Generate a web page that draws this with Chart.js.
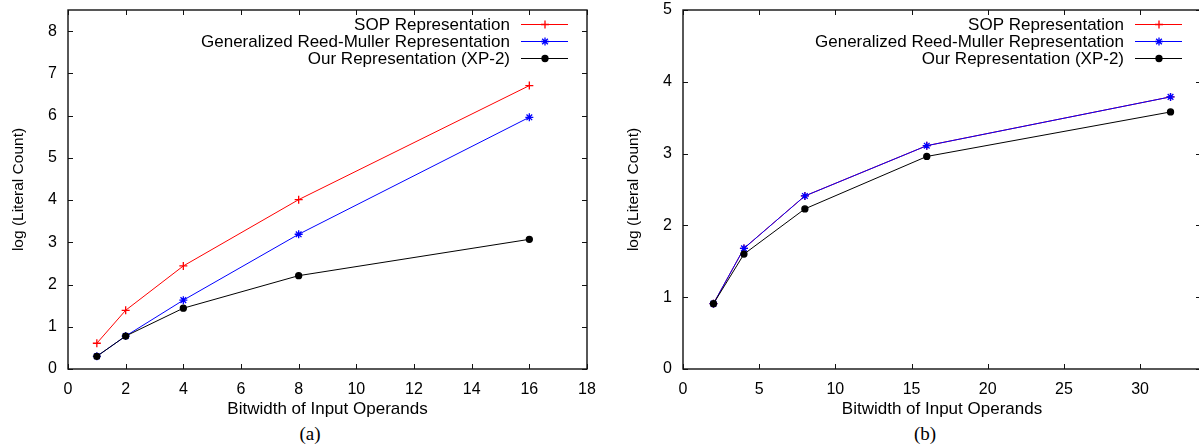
<!DOCTYPE html>
<html>
<head>
<meta charset="utf-8">
<script src="https://cdn.jsdelivr.net/npm/chart.js@4.4.1/dist/chart.umd.min.js"></script>
<style>
    html, body { margin: 0; padding: 0; background: #fff; overflow: hidden; width: 1199px; height: 447px; }
    canvas { position: absolute; top: 0; }
    #chartA { left: 0; }
    #chartB { left: 600px; }
    .caption { position: absolute; top: 423px; width: 60px; margin-left: -30px; text-align: center;
               font-family: "Liberation Serif", "Times New Roman", serif; font-size: 19px; color: #000; }
</style>
</head>
<body>
<canvas id="chartA" width="600" height="420"></canvas>
<canvas id="chartB" width="620" height="420"></canvas>
<div class="caption" style="left:310px">(a)</div>
<div class="caption" style="left:925px">(b)</div>

<script>
// --- DATA ---
const seriesNames = ['SOP Representation', 'Generalized Reed-Muller Representation', 'Our Representation (XP-2)'];

const bitwidthA = [1, 2, 4, 8, 16];
const sopA = [0.61, 1.39, 2.44, 4.01, 6.71];
const grmA = [0.30, 0.78, 1.63, 3.19, 5.96];
const oursA = [0.30, 0.78, 1.44, 2.21, 3.07];

const bitwidthB = [2, 4, 8, 16, 32];
const sopB = [0.91, 1.68, 2.41, 3.11, 3.79];
const grmB = [0.91, 1.68, 2.41, 3.11, 3.79];
const oursB = [0.91, 1.60, 2.23, 2.96, 3.58];

const FONT = '"Liberation Sans", Arial, Helvetica, sans-serif';

// --- STYLES ---
const seriesStyles = [
    { color: 'rgb(255, 0, 0)', pointStyle: 'cross', radius: 4 },
    { color: 'rgb(0, 0, 255)', pointStyle: 'star', radius: 4 },
    { color: 'rgb(0, 0, 0)', pointStyle: 'circle', radius: 3 }
];

function makeDatasets(xs, lists) {
    return lists.map((vals, i) => ({
        label: seriesNames[i],
        data: xs.map((x, j) => ({ x: x, y: vals[j] })),
        borderColor: seriesStyles[i].color,
        backgroundColor: seriesStyles[i].color,
        borderWidth: 1,
        pointStyle: seriesStyles[i].pointStyle,
        pointRadius: seriesStyles[i].radius,
        pointBorderWidth: 1.3,
        pointHoverRadius: seriesStyles[i].radius,
        order: lists.length - i,   // later series on top, like gnuplot
        tension: 0
    }));
}

// gnuplot-like box with inward ticks on all four sides
const framePlugin = {
    id: 'frame',
    beforeDatasetsDraw(chart) {
        const { ctx, chartArea: a, scales: { x, y } } = chart;
        ctx.save();
        ctx.strokeStyle = '#111';
        ctx.lineWidth = 1.4;
        ctx.strokeRect(a.left, a.top, a.right - a.left, a.bottom - a.top);
        ctx.lineWidth = 1;
        ctx.beginPath();
        x.ticks.forEach(t => {
            const px = Math.round(x.getPixelForValue(t.value)) + 0.5;
            ctx.moveTo(px, a.bottom); ctx.lineTo(px, a.bottom - 5);
            ctx.moveTo(px, a.top); ctx.lineTo(px, a.top + 5);
        });
        y.ticks.forEach(t => {
            const py = Math.round(y.getPixelForValue(t.value)) + 0.5;
            ctx.moveTo(a.left, py); ctx.lineTo(a.left + 5, py);
            ctx.moveTo(a.right, py); ctx.lineTo(a.right - 5, py);
        });
        ctx.stroke();
        ctx.restore();
    }
};

// legend in the top right corner: right-aligned text, then sample line with marker
const keyPlugin = {
    id: 'key',
    afterDatasetsDraw(chart) {
        const { ctx, chartArea: a } = chart;
        ctx.save();
        ctx.font = '17px ' + FONT;
        ctx.textAlign = 'right';
        ctx.textBaseline = 'middle';
        chart.data.datasets.forEach((ds, i) => {
            const yy = a.top + 14 + i * 17;
            ctx.fillStyle = '#000';
            ctx.fillText(ds.label, a.right - 77, yy + 1);
            ctx.strokeStyle = ds.borderColor;
            ctx.lineWidth = 1;
            ctx.beginPath();
            ctx.moveTo(a.right - 66, yy + 0.5);
            ctx.lineTo(a.right - 19, yy + 0.5);
            ctx.stroke();
            ctx.fillStyle = ds.backgroundColor;
            ctx.lineWidth = 1.3;
            Chart.helpers.drawPoint(ctx, {
                pointStyle: ds.pointStyle, radius: ds.pointRadius, rotation: 0, borderWidth: 1.3
            }, a.right - 42, yy + 0.5);
        });
        ctx.restore();
    }
};

function makeChart(canvasId, xs, lists, xMax, xStep, yMax, yAxisWidth, rightPad, yTitlePad) {
    return new Chart(document.getElementById(canvasId), {
        type: 'line',
        data: { datasets: makeDatasets(xs, lists) },
        options: {
            responsive: false,
            animation: false,
            layout: { padding: { left: 0, right: rightPad, top: 10, bottom: 0 } },
            plugins: { legend: { display: false }, tooltip: { enabled: false } },
            scales: {
                x: {
                    type: 'linear', min: 0, max: xMax,
                    grid: { display: false, drawTicks: false }, border: { display: false },
                    ticks: { stepSize: xStep, includeBounds: false, padding: 11, color: '#000', font: { family: FONT, size: 16 } },
                    title: { display: true, text: 'Bitwidth of Input Operands', color: '#000', padding: { top: 0, bottom: 0 }, font: { family: FONT, size: 17 } },
                    afterFit: s => { s.height = 51; s.paddingLeft = 0; s.paddingRight = 0; }
                },
                y: {
                    type: 'linear', min: 0, max: yMax,
                    grid: { display: false, drawTicks: false }, border: { display: false },
                    ticks: { stepSize: 1, includeBounds: false, padding: 11, color: '#000', font: { family: FONT, size: 16 } },
                    title: { display: true, text: 'log (Literal Count)', color: '#000', padding: { top: yTitlePad, bottom: 0 }, font: { family: FONT, size: 15.5 } },
                    afterFit: s => { s.width = yAxisWidth; s.paddingTop = 0; s.paddingBottom = 0; }
                }
            }
        },
        plugins: [framePlugin, keyPlugin]
    });
}

makeChart('chartA', bitwidthA, [sopA, grmA, oursA], 18, 2, 8.5, 68, 13, 9);
makeChart('chartB', bitwidthB, [sopB, grmB, oursB], 34, 5, 5, 83, 19, 24);
</script>
</body>
</html>
